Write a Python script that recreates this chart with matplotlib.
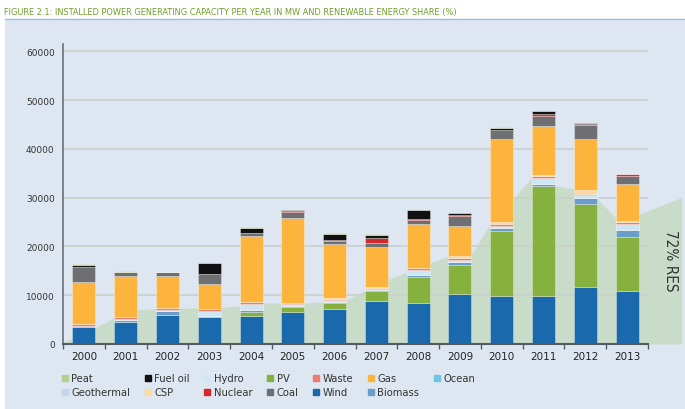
import matplotlib
matplotlib.use('Agg')
import matplotlib.pyplot as plt
from matplotlib.lines import Line2D
from matplotlib.patches import Rectangle

years = ['2000', '2001', '2002', '2003', '2004', '2005', '2006',
         '2007', '2008', '2009', '2010', '2011', '2012', '2013']

# installed MW per year, stacked bottom -> top
wind = [3400, 4450, 5950, 5550, 5800, 6500, 7200, 8850, 8400, 10250, 9900, 9750, 11750, 10900]
pv = [0, 0, 0, 0, 800, 1100, 1150, 2050, 5400, 5950, 13300, 22650, 16950, 11050]
biomass = [200, 500, 800, 250, 350, 200, 300, 100, 300, 550, 550, 350, 1250, 1350]
geothermal = [0, 0, 0, 0, 0, 0, 0, 0, 0, 0, 50, 50, 50, 50]
ocean = [0, 0, 0, 0, 0, 0, 0, 0, 0, 0, 0, 50, 0, 0]
hydro = [100, 200, 250, 1000, 1250, 400, 300, 300, 1150, 500, 400, 1250, 450, 1350]
waste = [300, 350, 300, 350, 350, 300, 300, 250, 250, 400, 350, 300, 350, 300]
csp = [0, 0, 0, 0, 0, 0, 100, 200, 0, 300, 500, 200, 700, 250]
gas = [8800, 8500, 6700, 5100, 13650, 17400, 11100, 8200, 9100, 6150, 17050, 10100, 10600, 7450]
coal = [3000, 700, 700, 2050, 500, 1200, 600, 700, 900, 2050, 1800, 2050, 2850, 1750]
nuclear = [0, 0, 0, 0, 0, 200, 200, 1000, 150, 250, -200, 450, 100, 300]
fuel_oil = [400, 0, 100, 2250, 1000, 200, 1250, 700, 1900, 400, 300, 600, 200, 200]
peat = [200, 200, 0, 0, 200, 0, 200, 200, 0, 0, 350, 0, 0, 0]

# renewable share (%) drawn as the background area
res_pos = [0, 0.5, 1.5, 2.5, 3.5, 4.5, 5.5, 6.45, 7.38, 8.71, 9.28, 9.66,
           10.18, 10.61, 11.13, 11.93, 12.6, 14]
res_share = [1, 5.4, 16.7, 17.7, 17.7, 20.1, 20.1, 22.1, 31.9, 43.2, 45.1, 58.9,
             71.1, 81.8, 77.7, 74.6, 59.9, 72]

colors = {
    'Peat': '#b3cf8c', 'Fuel oil': '#111111', 'Hydro': '#cce6f4',
    'PV': '#86b13e', 'Waste': '#ee7d6f', 'Gas': '#fdb43c',
    'Ocean': '#6fc4e6', 'Geothermal': '#c6d5ea', 'CSP': '#fed9a0',
    'Nuclear': '#d4282b', 'Coal': '#6e6f73', 'Wind': '#1a69ad',
    'Biomass': '#6b9dca',
}
stack = [('Wind', wind), ('PV', pv), ('Biomass', biomass),
         ('Geothermal', geothermal), ('Ocean', ocean), ('Hydro', hydro),
         ('Waste', waste), ('CSP', csp), ('Gas', gas), ('Coal', coal),
         ('Nuclear', nuclear), ('Fuel oil', fuel_oil), ('Peat', peat)]
legend_order = ['Peat', 'Geothermal', 'Fuel oil', 'CSP', 'Hydro', 'Nuclear',
                'PV', 'Coal', 'Waste', 'Wind', 'Gas', 'Biomass', 'Ocean']

W, H = 685, 410
fig = plt.figure(figsize=(W / 100, H / 100), dpi=100)
fig.patch.set_facecolor('white')

# panel background + rule under the title
fig.patches.append(Rectangle((5 / W, 0), 1 - 5 / W, (H - 20) / H,
                             transform=fig.transFigure, color='#dee7f1', zorder=-10))
fig.lines.append(Line2D([5 / W, 1], [(H - 20) / H] * 2, transform=fig.transFigure,
                        color='#9dbfe6', lw=1, zorder=-9))
fig.text(4 / W, (H - 15) / H,
         'FIGURE 2.1: INSTALLED POWER GENERATING CAPACITY PER YEAR IN MW AND RENEWABLE ENERGY SHARE (%)',
         family='DejaVu Sans', fontstretch='condensed', fontsize=6.6,
         color='#6f9e2a', va='baseline')

left, right, bottom, top = 63, 648, 345, 45

# area axes, a bit wider than the bar axes
ax_area = fig.add_axes([left / W, (H - bottom) / H, (681.7 - left) / W, (bottom - top) / H])
ax_area.set_zorder(1)
ax_area.fill_between(res_pos, res_share, 0, color='#c9dcca', lw=0)
ax_area.set_xlim(0, 14)
ax_area.set_ylim(0, 147.2)
ax_area.axis('off')

ax = fig.add_axes([left / W, (H - bottom) / H, (right - left) / W, (bottom - top) / H])
ax.set_zorder(2)
ax.set_facecolor('none')
x = list(range(len(years)))
pos_bottom = [0] * len(years)
neg_bottom = [0] * len(years)
for name, vals in stack:
    bots = [pos_bottom[i] if v >= 0 else neg_bottom[i] for i, v in enumerate(vals)]
    ax.bar(x, vals, bottom=bots, width=0.55, color=colors[name],
           edgecolor=(1, 1, 1, 0.45), linewidth=0.5, zorder=3)
    for i, v in enumerate(vals):
        if v >= 0:
            pos_bottom[i] += v
        else:
            neg_bottom[i] += v

ax.set_xlim(-0.5, 13.5)
ax.set_ylim(0, 61500)
ax.set_yticks(range(0, 60001, 10000))
ax.set_yticklabels([str(v) for v in range(0, 60001, 10000)])
ax.yaxis.grid(True, color='#c9cfcc', lw=1.2, zorder=1)
ax.set_axisbelow(True)
ax.set_xticks(x)
ax.set_xticklabels(years)
ax.set_xticks([i - 0.5 for i in range(len(years) + 1)], minor=True)
ax.tick_params(axis='x', which='major', length=0, pad=5, labelsize=7.5, labelcolor='#222222')
ax.tick_params(axis='x', which='minor', length=3.5, width=1, color='#555a60', direction='out')
ax.tick_params(axis='y', length=0, pad=6, labelsize=6.5, labelcolor='#333333')
for s in ['top', 'right']:
    ax.spines[s].set_visible(False)
ax.spines['left'].set_color('#6b7077')
ax.spines['left'].set_linewidth(1.2)
ax.spines['bottom'].set_color('#555a60')
ax.spines['bottom'].set_linewidth(1.5)
ax.spines['bottom'].set_zorder(4)

fig.text(670.7 / W, (H - 261) / H, '72% RES', rotation=270,
         family='DejaVu Sans', fontstretch='condensed', fontsize=11,
         color='#333333', ha='center', va='center')

handles = [Line2D([], [], marker='s', ls='', color=colors[n], markersize=4) for n in legend_order]
fig.legend(handles, legend_order, loc='upper left', bbox_to_anchor=(62 / W, (H - 374.5) / H),
           ncol=7, frameon=False, fontsize=7.2, labelcolor='#333333',
           handlelength=0.6, handletextpad=0.35, columnspacing=1.45,
           labelspacing=0.38, borderpad=0, borderaxespad=0)

fig.savefig('out.png', dpi=100, facecolor=fig.get_facecolor())
plt.close(fig)
